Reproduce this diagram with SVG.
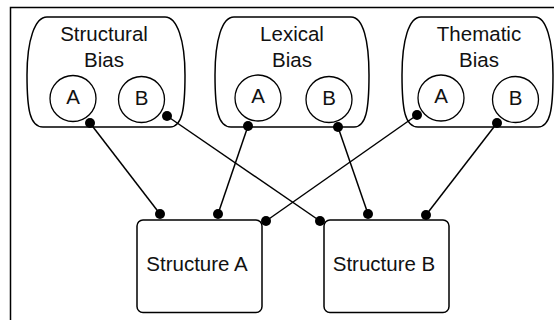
<svg xmlns="http://www.w3.org/2000/svg" width="554" height="320" viewBox="0 0 554 320">
<style>
.shape{fill:#fff;stroke:#000;stroke-width:1.5}
.circ{fill:none;stroke:#000;stroke-width:1.3}
.lbl{font-family:"Liberation Sans",Arial,sans-serif;font-size:20.5px;fill:#111;text-anchor:middle}
.edge{stroke:#000;stroke-width:1.5;fill:none}
.dot{fill:#000}
</style>
<rect x="0" y="0" width="554" height="320" fill="#fff"/>
<path d="M10.5,320 V7.5 H554" fill="none" stroke="#000" stroke-width="1.5"/>

<g id="structural-bias">
<path class="shape" d="M47,17 H165 C177,17 185,40 185,75 C185,110 182,127 170,127 H43 C30,127 27,110 27,75 C27,40 35,17 47,17 Z"/>
<text class="lbl" x="104" y="41">Structural</text>
<text class="lbl" x="104" y="67">Bias</text>
<circle class="circ" cx="73" cy="98.5" r="23"/>
<text class="lbl" x="73" y="103.5">A</text>
<circle class="circ" cx="141.5" cy="99.5" r="23"/>
<text class="lbl" x="141.5" y="104.5">B</text>
</g>

<g id="lexical-bias">
<path class="shape" d="M234,17 H351 C363,17 369,40 369,75 C369,110 366,127 354,127 H231 C218,127 215,110 215,75 C215,40 222,17 234,17 Z"/>
<text class="lbl" x="292" y="41">Lexical</text>
<text class="lbl" x="292" y="67">Bias</text>
<circle class="circ" cx="258" cy="98" r="23"/>
<text class="lbl" x="258" y="103">A</text>
<circle class="circ" cx="329" cy="99.5" r="23"/>
<text class="lbl" x="329" y="104.5">B</text>
</g>

<g id="thematic-bias">
<path class="shape" d="M421,17 H535 C546,17 553,40 553,75 C553,110 550,127 538,127 H418 C405,127 402,110 402,75 C402,40 409,17 421,17 Z"/>
<text class="lbl" x="479" y="41">Thematic</text>
<text class="lbl" x="479" y="67">Bias</text>
<circle class="circ" cx="441" cy="98" r="23"/>
<text class="lbl" x="441" y="103">A</text>
<circle class="circ" cx="515.5" cy="99.5" r="23"/>
<text class="lbl" x="515.5" y="104.5">B</text>
</g>

<g id="structure-a">
<rect class="shape" x="137" y="220" width="125" height="92.5" rx="6"/>
<text class="lbl" x="197" y="271">Structure A</text>
</g>

<g id="structure-b">
<rect class="shape" x="324" y="220" width="125" height="92.5" rx="6"/>
<text class="lbl" x="384" y="271">Structure B</text>
</g>

<g id="connectors">
<line class="edge" x1="90" y1="123" x2="160" y2="214"/>
<line class="edge" x1="167" y1="116" x2="320" y2="221"/>
<line class="edge" x1="248" y1="126" x2="218" y2="214"/>
<line class="edge" x1="338" y1="127" x2="368" y2="214"/>
<line class="edge" x1="417" y1="115" x2="266" y2="221"/>
<line class="edge" x1="497" y1="123" x2="426" y2="215"/>
<circle class="dot" cx="90" cy="123" r="5"/>
<circle class="dot" cx="167" cy="116" r="5"/>
<circle class="dot" cx="248" cy="126" r="5"/>
<circle class="dot" cx="338" cy="127" r="5"/>
<circle class="dot" cx="417" cy="115" r="5"/>
<circle class="dot" cx="497" cy="123" r="5"/>
<circle class="dot" cx="160" cy="214" r="5"/>
<circle class="dot" cx="218" cy="214" r="5"/>
<circle class="dot" cx="266" cy="221" r="5"/>
<circle class="dot" cx="320" cy="221" r="5"/>
<circle class="dot" cx="368" cy="214" r="5"/>
<circle class="dot" cx="426" cy="215" r="5"/>
</g>
</svg>
